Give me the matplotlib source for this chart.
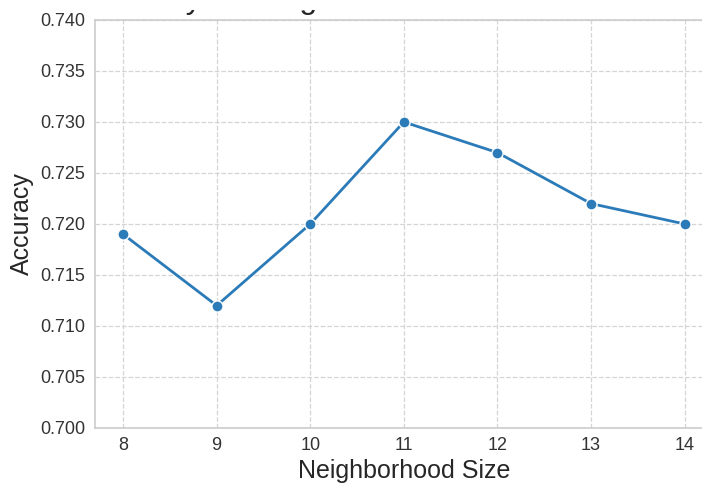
import matplotlib
matplotlib.use("Agg")
import matplotlib.pyplot as plt
from matplotlib.patches import Rectangle
import seaborn as sns

neighborhood_sizes = [8, 9, 10, 11, 12, 13, 14]
accuracy = [0.719, 0.712, 0.720, 0.730, 0.727, 0.722, 0.720]

sns.set_style("whitegrid", {"grid.linestyle": "--"})
plt.rcParams["font.family"] = ["Liberation Sans", "DejaVu Sans"]

fig = plt.figure(figsize=(7.02, 4.83), dpi=100)
ax = fig.add_axes([0.1353, 0.1139, 0.880, 0.8447])

ax.plot(neighborhood_sizes, accuracy, color="#2b7bb9", linewidth=2,
        marker="o", markersize=8, markeredgecolor="white", markeredgewidth=1)

ax.set_xlim(7.7, 14.3)
ax.set_ylim(0.700, 0.740)
ax.set_xticks(neighborhood_sizes)
ax.set_yticks([0.700 + 0.005 * i for i in range(9)])
ax.yaxis.set_major_formatter(matplotlib.ticker.FormatStrFormatter("%.3f"))
ax.tick_params(labelsize=13, colors="#333333", pad=3.3)

ax.set_xlabel("Neighborhood Size", fontsize=18, color="#262626", labelpad=3)
ax.set_ylabel("Accuracy", fontsize=18, color="#262626")
ax.yaxis.set_label_coords(-0.099, 0.5)

ax.set_title("Accuracy vs Neighborhood Size", loc="left", fontsize=23,
             pad=8.3, color="#262626", x=-0.04)

# the top strip of the canvas is blanked, so only the title's descenders remain
fig.add_artist(Rectangle((0, 1 - 10 / 483), 1, 10 / 483, transform=fig.transFigure,
                         facecolor="white", edgecolor="none", zorder=10))

ax.grid(True, color="#d5d5d5", linestyle="--", linewidth=0.9)
for s in ax.spines.values():
    s.set_color("#cccccc")
    s.set_linewidth(1.2)

fig.savefig("out.png", dpi=100)
